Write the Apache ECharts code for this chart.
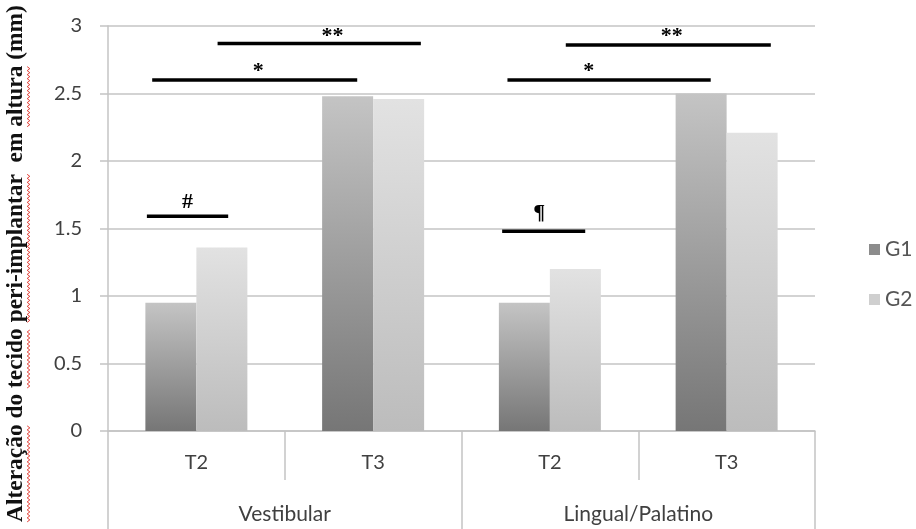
<!DOCTYPE html>
<html><head><meta charset="utf-8">
<script src="https://cdn.jsdelivr.net/npm/echarts@6/dist/echarts.min.js"></script>
<style>html,body{margin:0;padding:0;background:#fff}#c{width:916px;height:529px}</style>
</head><body><div id="c"></div>
<script>
// ---- data ----
const categories = ['T2', 'T3', 'T2', 'T3'];
const groups = ['Vestibular', 'Lingual/Palatino'];
const seriesNames = ['G1', 'G2'];
const g1Values = [0.95, 2.48, 0.95, 2.50];
const g2Values = [1.36, 2.46, 1.20, 2.21];
const yMin = 0, yMax = 3, yStep = 0.5;
// significance bars, x in category units from the left edge of the plot, y in mm
const sigStart = [0.22, 0.25, 0.62, 2.23, 2.26, 2.59];
const sigEnd   = [0.68, 1.41, 1.77, 2.70, 3.41, 3.75];
const sigLevel = [1.59, 2.60, 2.87, 1.48, 2.60, 2.86];
const sigText  = ['#', '*', '**', '¶', '*', '**'];
const sigTextX = [0.45, 0.85, 1.27, 2.44, 2.72, 3.19];
const sigTextY = [1.695, 2.665, 2.925, 1.615, 2.665, 2.925];
const yTitle = 'Alteração do tecido peri-implantar  em altura (mm)';
const flaggedWords = ['Alteração', 'tecido', 'peri-implantar', 'altura'];

// ---- styles ----
const gridColor = '#c4c4c4';
const textColor = '#404040';
const sansFont = 'Lato';
const serifFont = '"Liberation Serif"';

// y title sizing + spell-check squiggles (drawn in the title's own rotated frame)
const titleCx = 16, titleCy = 263.5, titleLen = 517, squiggleOffset = 12.5;
const mctx = document.createElement('canvas').getContext('2d');
mctx.font = 'bold 100px ' + serifFont;
const titleFs = 100 * titleLen / mctx.measureText(yTitle).width;
mctx.font = 'bold ' + titleFs + 'px ' + serifFont;
const fullW = mctx.measureText(yTitle).width;
const squiggles = [];
let searchFrom = 0;
flaggedWords.forEach(w => {
  const idx = yTitle.indexOf(w, searchFrom);
  searchFrom = idx + w.length;
  const s0 = mctx.measureText(yTitle.slice(0, idx)).width;
  const s1 = s0 + mctx.measureText(w).width;
  const pts = [];
  let k = 0;
  for (let s = s0; s <= s1; s += 2, k++) {
    pts.push([-fullW / 2 + s, squiggleOffset + (k % 2 ? 1.3 : -1.3)]);
  }
  squiggles.push({
    type: 'polyline', silent: true,
    shape: { points: pts },
    style: { stroke: '#e23a32', lineWidth: 1, fill: null }
  });
});

const chart = echarts.init(document.getElementById('c'), null, { renderer: 'canvas' });

const barGrad = (top, bottom) => ({
  type: 'linear', x: 0, y: 0, x2: 0, y2: 1,
  colorStops: [{ offset: 0, color: top }, { offset: 1, color: bottom }]
});

const lineStyle = { color: gridColor, width: 1.5 };

chart.setOption({
  animation: false,
  backgroundColor: '#fff',
  grid: { left: 108, right: 101, top: 26, bottom: 98, containLabel: false },
  legend: {
    orient: 'vertical', left: 864, top: 234,
    itemWidth: 11, itemHeight: 11, itemGap: 29,
    textStyle: { fontSize: 21, color: '#555', fontFamily: sansFont },
    data: [
      { name: seriesNames[0], icon: 'rect', itemStyle: { color: '#8c8c8c' } },
      { name: seriesNames[1], icon: 'rect', itemStyle: { color: '#cfcfcf' } }
    ]
  },
  xAxis: [
    {
      type: 'category', data: categories, position: 'bottom',
      axisLine: { show: true, lineStyle },
      axisTick: { show: true, interval: 0, length: 49, lineStyle },
      axisLabel: { interval: 0, margin: 22, fontSize: 20, color: textColor, fontFamily: sansFont },
      splitLine: { show: false }
    },
    {
      type: 'category', data: groups, position: 'bottom', offset: 0,
      axisLine: { show: false },
      axisTick: { show: true, interval: 0, length: 98, lineStyle },
      axisLabel: { interval: 0, margin: 73, fontSize: 21, color: textColor, fontFamily: sansFont },
      splitLine: { show: false }
    },
    { type: 'value', min: 0, max: categories.length, show: false }
  ],
  yAxis: {
    type: 'value', min: yMin, max: yMax, interval: yStep,
    axisLine: { show: true, lineStyle },
    axisTick: { show: true, length: 8, lineStyle },
    splitLine: { show: true, lineStyle },
    axisLabel: { margin: 26, fontSize: 20, color: textColor, fontFamily: sansFont }
  },
  series: [
    {
      name: seriesNames[0], type: 'bar', xAxisIndex: 0, data: g1Values,
      barWidth: 51, barGap: '0%',
      itemStyle: { color: barGrad('#c4c4c4', '#767676') }
    },
    {
      name: seriesNames[1], type: 'bar', xAxisIndex: 0, data: g2Values,
      barWidth: 51, barGap: '0%',
      itemStyle: { color: barGrad('#e2e2e2', '#bcbcbc') }
    },
    {
      type: 'custom', xAxisIndex: 2, yAxisIndex: 0, silent: true, z: 10,
      data: sigStart.map((s, i) => [s, sigEnd[i], sigLevel[i], sigTextX[i], sigTextY[i]]),
      encode: { x: [0, 1, 3], y: [2, 4] },
      renderItem: (params, api) => {
        const p1 = api.coord([api.value(0), api.value(2)]);
        const p2 = api.coord([api.value(1), api.value(2)]);
        const pt = api.coord([api.value(3), api.value(4)]);
        return {
          type: 'group',
          children: [
            { type: 'line', shape: { x1: p1[0], y1: p1[1], x2: p2[0], y2: p2[1] },
              style: { stroke: '#000', lineWidth: 3.5 } },
            { type: 'text', x: pt[0], y: pt[1],
              style: { text: sigText[params.dataIndex], font: 'bold 22px ' + serifFont,
                       fill: '#000', align: 'center', verticalAlign: 'middle' } }
          ]
        };
      }
    }
  ],
  graphic: [
    {
      type: 'group', x: titleCx, y: titleCy, rotation: Math.PI / 2, silent: true,
      children: [
        {
          type: 'text', x: 0, y: 0,
          style: { text: yTitle, font: 'bold ' + titleFs + 'px ' + serifFont, fill: '#111',
                   align: 'center', verticalAlign: 'middle' }
        }
      ].concat(squiggles)
    }
  ]
});
</script>
</body></html>
